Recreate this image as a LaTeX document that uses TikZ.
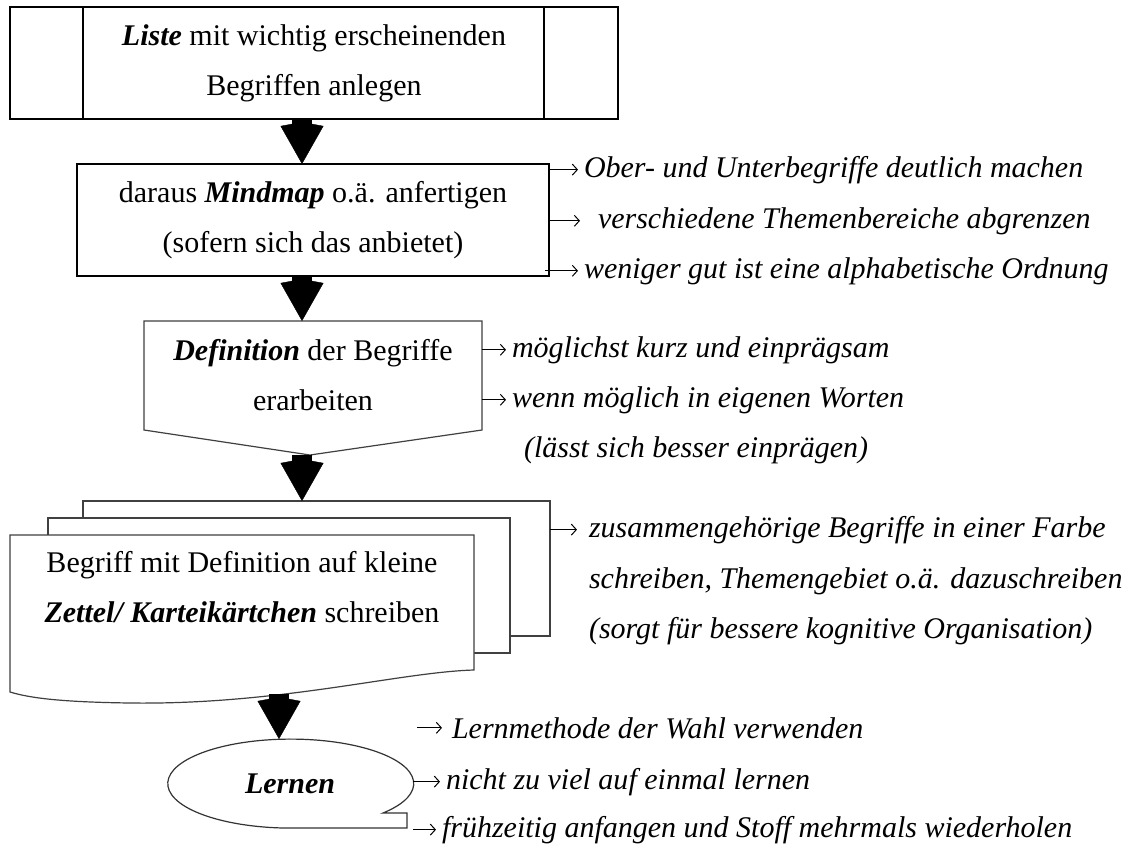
\documentclass[tikz,border=0pt]{standalone}
\usepackage{fontspec}
\setmainfont{Liberation Serif}
\usetikzlibrary{arrows.meta,calc,positioning,shapes.geometric}

\begin{document}
\begin{tikzpicture}[x=0.5pt,y=-0.5pt,every node/.style={outer sep=0pt},
        font=\fontsize{15}{25}\selectfont,
        box/.style={draw,line width=0.7pt,align=center,inner sep=0pt},
        page/.style={draw=black!75,line width=0.6pt,fill=white},
        bigarrow/.style={line width=10pt,-{Kite[length=21pt,width=21.5pt,inset=2pt,line width=0.2pt]}},
        note/.style={anchor=base west,inner sep=0pt,font=\fontsize{15}{25}\selectfont\itshape},
        notearrow/.style={line width=0.5pt,-{Straight Barb[length=2.5pt,width=5.5pt]}}]

        \fill[white] (0,0) rectangle (1128,847);
        \useasboundingbox (0,0) rectangle (1128,847);
        \coordinate (axis) at (302,0);

        % Liste
        \node[box,minimum width=304pt,minimum height=56pt] (liste) at (314,63)
            {\textbf{\textit{Liste}} mit wichtig erscheinenden\\Begriffen anlegen};
        \draw[line width=0.7pt] ([xshift=36.5pt]liste.north west) -- ([xshift=36.5pt]liste.south west);
        \draw[line width=0.7pt] ([xshift=-37pt]liste.north east) -- ([xshift=-37pt]liste.south east);

        % Mindmap
        \node[box,minimum width=236pt,minimum height=56pt] (mindmap) at (313,220)
            {daraus \textbf{\textit{Mindmap}} o.ä. anfertigen\\(sofern sich das anbietet)};
        \draw[bigarrow] (liste.south -| axis) -- (mindmap.north -| axis);

        \node[note] (ober) at (584,177) {Ober- und Unterbegriffe deutlich machen};
        \node[note] (themen) at (598,228) {verschiedene Themenbereiche abgrenzen};
        \node[note] (ordnung) at (584,278) {weniger gut ist eine alphabetische Ordnung};
        \draw[notearrow] (mindmap.east |- ober.west) -- ([xshift=-3pt]ober.west);
        \draw[notearrow] (mindmap.east |- themen.west) -- ([xshift=-9pt]themen.west);
        \draw[notearrow] ([xshift=-2pt]mindmap.east |- ordnung.west) -- ([xshift=-3pt]ordnung.west);

        % Definition
        \node[align=center,inner sep=0pt,minimum width=169pt,minimum height=54.5pt] (defin) at (313,375.5)
            {\textbf{\textit{Definition}} der Begriffe\\erarbeiten};
        \coordinate (tip) at ($(defin.south)+(-3,25)$);
        \draw[line width=0.6pt,draw=black!75] (defin.north west) -- (defin.north east) -- (defin.south east)
            -- (tip) -- (defin.south west) -- cycle;
        \draw[bigarrow] (mindmap.south -| axis) -- (defin.north -| axis);

        \node[note] (kurz) at (512,357) {möglichst kurz und einprägsam};
        \node[note] (worte) at (512,407) {wenn möglich in eigenen Worten};
        \node[note] (praegen) at (524,457) {(lässt sich besser einprägen)};
        \draw[notearrow] (defin.east |- kurz.west) -- ([xshift=-3pt]kurz.west);
        \draw[notearrow] (defin.east |- worte.west) -- ([xshift=-3pt]worte.west);

        % Zettel
        \node[page,minimum width=233.5pt,minimum height=67.5pt] (back) at (316.5,568.5) {};
        \node[page,minimum width=231pt,minimum height=67.5pt] (middle) at (279,585.5) {};
        \draw[page] (10,535) -- (474,535) -- (474,670) .. controls (400,672) and (280,705) .. (130,703)
            .. controls (60,702) and (30,698) .. (10,692) -- cycle;
        \node[align=center,inner sep=0pt] (zettel) at (242,587)
            {Begriff mit Definition auf kleine\\\textbf{\textit{Zettel/ Karteikärtchen}} schreiben};
        \draw[bigarrow] (tip -| axis) -- (back.north -| axis);

        \node[note] (farbe) at (589,537) {zusammengehörige Begriffe in einer Farbe};
        \node[note] (gebiet) at (589,588) {schreiben, Themengebiet o.ä. dazuschreiben};
        \node[note] (orga) at (589,638) {(sorgt für bessere kognitive Organisation)};
        \draw[notearrow] (back.east |- farbe.west) -- ([xshift=-6pt]farbe.west);

        % Lernen
        \node[ellipse,inner sep=0pt,minimum width=123pt,minimum height=44.5pt] (lernen) at (290,783.5)
            {\textbf{\textit{Lernen}}};
        \draw[line width=0.6pt,draw=black!80] (lernen.south) -- ++(117,0) -- ++(0,-15) -- ++(-24,0)
            arc[start angle=-41.4,end angle=270,x radius=61.5pt,y radius=22.25pt] -- cycle;
        \coordinate (wave) at (279,694);
        \draw[bigarrow] (wave) -- (wave |- lernen.north);

        \node[note] (methode) at (452,738) {Lernmethode der Wahl verwenden};
        \node[note] (menge) at (446,789) {nicht zu viel auf einmal lernen};
        \node[note] (frueh) at (442,837) {frühzeitig anfangen und Stoff mehrmals wiederholen};
        \draw[notearrow] ([xshift=2pt]lernen.east |- methode.west) -- ([xshift=-5pt]methode.west);
        \draw[notearrow] (lernen.east |- menge.west) -- ([xshift=-3pt]menge.west);
        \draw[notearrow] (lernen.east |- frueh.west) -- ([xshift=-3pt]frueh.west);

    \end{tikzpicture}
\end{document}
